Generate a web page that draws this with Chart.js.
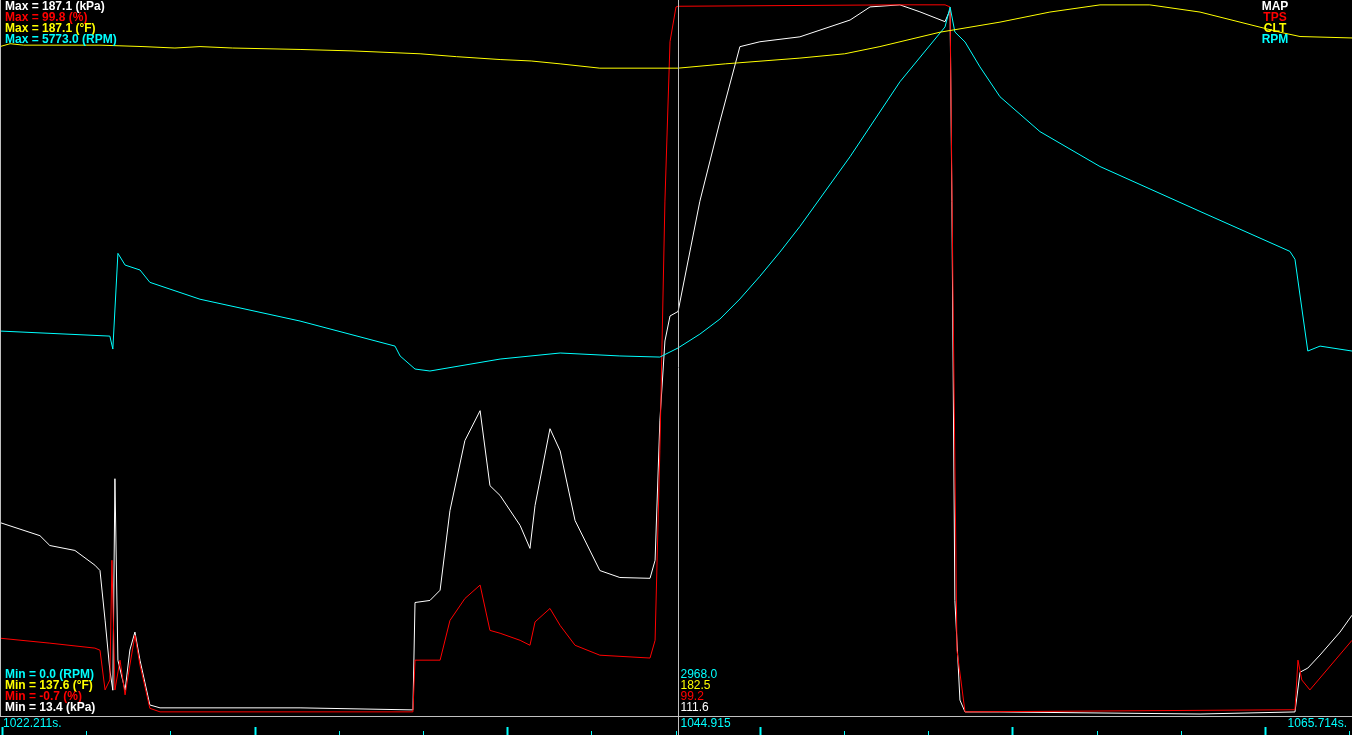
<!DOCTYPE html>
<html>
<head>
<meta charset="utf-8">
<script src="https://cdn.jsdelivr.net/npm/chart.js@4"></script>
<style>
  html, body { margin: 0; padding: 0; background: #000; overflow: hidden; }
  #wrap { position: relative; width: 1352px; height: 735px; }
</style>
</head>
<body>
<div id="wrap"><canvas id="logChart" width="1352" height="735"></canvas></div>
<script>
// --- data (time in s) ---
const T_START = 1022.211;
const T_END = 1067.49;
const T_CURSOR = 1044.915;
const T_RIGHT_LABEL = '1065.714s.';

const rpmTime = [1022.21, 1025.89, 1025.99, 1026.16, 1026.40, 1026.90, 1027.23, 1028.91, 1032.26, 1035.44, 1035.61, 1036.11, 1036.61, 1038.96, 1040.97, 1042.97, 1044.31, 1044.92, 1045.65, 1046.32, 1046.99, 1047.66, 1048.33, 1049.00, 1050.68, 1052.35, 1053.86, 1054.03, 1054.19, 1054.53, 1055.03, 1055.70, 1057.04, 1059.05, 1062.40, 1065.41, 1065.58, 1066.01, 1066.42, 1067.49];
const rpmVal  = [3105, 3064, 2959, 3735, 3640, 3600, 3500, 3363, 3186, 2983, 2903, 2797, 2781, 2878, 2927, 2903, 2894, 2968, 3080, 3202, 3365, 3549, 3745, 3953, 4519, 5126, 5571, 5732, 5530, 5449, 5247, 5005, 4722, 4439, 4075, 3751, 3687, 2943, 2983, 2943];

const mapTime = [1022.21, 1023.55, 1023.88, 1024.72, 1025.39, 1025.56, 1025.73, 1025.89, 1025.99, 1026.06, 1026.16, 1026.40, 1026.56, 1026.73, 1026.90, 1027.23, 1027.57, 1032.26, 1036.04, 1036.11, 1036.61, 1036.95, 1037.28, 1037.78, 1038.29, 1038.62, 1038.96, 1039.63, 1039.96, 1040.13, 1040.63, 1040.97, 1041.47, 1042.30, 1042.97, 1043.98, 1044.15, 1044.31, 1044.48, 1044.65, 1044.92, 1045.65, 1046.32, 1046.99, 1047.66, 1049.00, 1050.68, 1051.35, 1052.35, 1053.02, 1053.86, 1054.03, 1054.09, 1054.19, 1054.36, 1054.53, 1055.70, 1062.40, 1065.58, 1065.75, 1066.01, 1066.42, 1067.09, 1067.49];
const mapVal  = [60.1, 56.9, 54.5, 53.3, 49.7, 48.4, 36.3, 24.1, 19.2, 70.8, 26.5, 19.2, 29.0, 33.4, 26.5, 15.6, 14.9, 14.9, 14.4, 40.6, 41.1, 43.6, 63.0, 80.1, 87.4, 69.1, 66.7, 59.4, 53.8, 64.3, 83.0, 77.6, 60.6, 48.4, 46.7, 46.5, 50.9, 84.9, 104.4, 110.5, 111.6, 138.5, 157.9, 176.2, 177.4, 178.6, 182.7, 185.9, 186.4, 184.7, 182.3, 185.2, 138.5, 41.1, 16.8, 13.9, 13.9, 13.4, 13.9, 23.6, 24.6, 27.8, 33.4, 37.5];

const tpsTime = [1022.21, 1023.88, 1025.39, 1025.56, 1025.73, 1025.89, 1025.96, 1026.06, 1026.23, 1026.40, 1026.56, 1026.73, 1026.90, 1027.23, 1027.57, 1036.04, 1036.11, 1036.95, 1037.28, 1037.78, 1038.29, 1038.62, 1038.96, 1039.63, 1039.96, 1040.13, 1040.63, 1040.97, 1041.47, 1042.30, 1043.98, 1044.15, 1044.31, 1044.48, 1044.65, 1044.85, 1044.92, 1052.35, 1053.86, 1054.03, 1054.13, 1054.26, 1054.53, 1065.58, 1065.68, 1065.81, 1066.08, 1067.49];
const tpsVal  = [10.0, 9.3, 8.6, 8.3, 2.7, 4.1, 21.0, 2.7, 6.9, 2.0, 6.2, 10.4, 6.2, 0.1, -0.4, -0.4, 6.9, 6.9, 12.5, 15.6, 17.5, 11.1, 10.7, 9.7, 9.0, 12.3, 14.2, 11.8, 9.0, 7.6, 7.2, 9.7, 36.5, 71.7, 94.2, 99.1, 99.2, 99.4, 99.4, 99.1, 57.6, 8.3, -0.4, -0.1, 6.9, 4.1, 2.7, 9.7];

const cltTime = [1022.21, 1022.55, 1023.00, 1025.56, 1027.00, 1028.07, 1028.91, 1030.00, 1032.26, 1034.00, 1036.28, 1037.50, 1038.96, 1040.00, 1040.97, 1042.30, 1044.92, 1046.50, 1049.00, 1050.50, 1051.68, 1053.69, 1055.70, 1057.37, 1059.05, 1060.72, 1062.40, 1063.74, 1065.08, 1065.75, 1067.49];
const cltVal  = [184.0, 184.2, 184.1, 184.1, 184.0, 183.9, 184.0, 183.9, 183.8, 183.7, 183.5, 183.3, 183.1, 183.0, 182.8, 182.5, 182.5, 182.8, 183.2, 183.5, 184.0, 185.0, 185.7, 186.4, 186.9, 186.9, 186.4, 185.7, 185.0, 184.7, 184.6];

const seriesNames = ['MAP', 'TPS', 'CLT', 'RPM'];
const seriesColors = ['#ffffff', '#ff0000', '#ffff00', '#00ffff'];
const maxLabels = ['Max = 187.1 (kPa)', 'Max = 99.8 (%)', 'Max = 187.1 (°F)', 'Max = 5773.0 (RPM)'];
const minLabels = ['Min = 0.0 (RPM)', 'Min = 137.6 (°F)', 'Min = -0.7 (%)', 'Min = 13.4 (kPa)'];
const minColors = ['#00ffff', '#ffff00', '#ff0000', '#ffffff'];
const cursorValues = ['2968.0', '182.5', '99.2', '111.6'];
const axisRanges = { map: [13.4, 187.1], tps: [-0.7, 99.8], clt: [137.6, 187.1], rpm: [0, 5773] };

function pts(ts, vs) { return ts.map((t, i) => ({ x: t, y: vs[i] })); }

// overlay text, cursor and time strip
const overlay = {
  id: 'overlay',
  afterDatasetsDraw(chart) {
    const c = chart.ctx;
    const x = chart.scales.x;
    c.save();
    // cursor
    const cx = Math.round(x.getPixelForValue(T_CURSOR)) + 0.5;
    c.strokeStyle = '#c0c0c0'; c.lineWidth = 1;
    c.beginPath(); c.moveTo(cx, 0); c.lineTo(cx, 735); c.stroke();
    c.beginPath(); c.moveTo(0, 716.5); c.lineTo(1352, 716.5); c.stroke();
    c.beginPath(); c.moveTo(0.5, 0); c.lineTo(0.5, 716); c.stroke();
    // ticks
    c.strokeStyle = '#00ffff';
    for (let i = 0; i * 84.2 < 1352; i++) {
      const tx = Math.round(2 + i * 84.2) + 0.5;
      c.lineWidth = i % 3 === 0 ? 2 : 1;
      c.beginPath(); c.moveTo(tx, i % 3 === 0 ? 727 : 731); c.lineTo(tx, 735); c.stroke();
    }
    c.textBaseline = 'middle';
    c.font = 'bold 12px "Liberation Sans", Arial, sans-serif';
    maxLabels.forEach((s, i) => { c.fillStyle = seriesColors[i]; c.fillText(s, 5, 7 + i * 11); });
    minLabels.forEach((s, i) => { c.fillStyle = minColors[i]; c.fillText(s, 5, 675 + i * 11); });
    c.textAlign = 'center';
    seriesNames.forEach((s, i) => { c.fillStyle = seriesColors[i]; c.fillText(s, 1275, 7 + i * 11); });
    c.textAlign = 'left';
    c.font = '12px "Liberation Sans", Arial, sans-serif';
    cursorValues.forEach((s, i) => { c.fillStyle = minColors[i]; c.fillText(s, cx + 2, 675 + i * 11); });
    c.fillStyle = '#00ffff';
    c.fillText('1022.211s.', 3, 724);
    c.fillText(T_CURSOR.toFixed(3), cx + 2, 724);
    c.textAlign = 'right';
    c.fillText(T_RIGHT_LABEL, 1347, 724);
    c.restore();
  }
};

const hiddenY = (r) => ({ type: 'linear', display: false, min: r[0], max: r[1] });

new Chart(document.getElementById('logChart'), {
  type: 'line',
  data: {
    datasets: [
      { data: pts(cltTime, cltVal), borderColor: '#ffff00', yAxisID: 'yClt' },
      { data: pts(rpmTime, rpmVal), borderColor: '#00ffff', yAxisID: 'yRpm' },
      { data: pts(tpsTime, tpsVal), borderColor: '#ff0000', yAxisID: 'yTps' },
      { data: pts(mapTime, mapVal), borderColor: '#ffffff', yAxisID: 'yMap' }
    ]
  },
  options: {
    responsive: false,
    animation: false,
    clip: false,
    layout: { padding: { top: 2, bottom: 21, left: 0, right: 0 } },
    elements: { point: { radius: 0 }, line: { borderWidth: 1, tension: 0 } },
    scales: {
      x: { type: 'linear', display: false, min: T_START, max: T_END },
      yMap: hiddenY(axisRanges.map),
      yTps: hiddenY(axisRanges.tps),
      yClt: hiddenY(axisRanges.clt),
      yRpm: hiddenY(axisRanges.rpm)
    },
    plugins: { legend: { display: false }, tooltip: { enabled: false } }
  },
  plugins: [overlay]
});
</script>
</body>
</html>
